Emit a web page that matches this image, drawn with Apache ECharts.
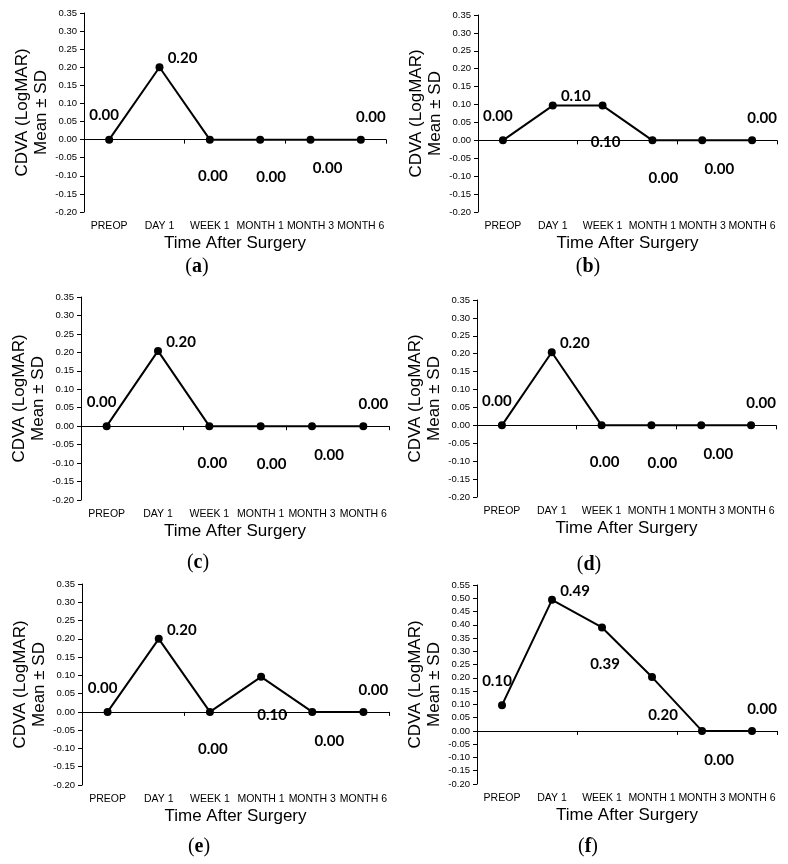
<!DOCTYPE html>
<html>
<head>
<meta charset="utf-8">
<script src="https://cdn.jsdelivr.net/npm/echarts@6/dist/echarts.min.js"></script>
<style>
  html, body { margin: 0; padding: 0; background: #fff; }
  #chart { width: 788px; height: 864px; }
</style>
</head>
<body>
<div id="chart"></div>
<script>
  // categories + values for the six panels (a)-(f)
  const CATEGORIES = ['PREOP', 'DAY 1', 'WEEK 1', 'MONTH 1', 'MONTH 3', 'MONTH 6'];
  const PANEL_A = [0, 0.2, 0, 0, 0, 0];
  const PANEL_B = [0, 0.097, 0.097, 0, 0, 0];
  const PANEL_C = [0, 0.204, 0, 0, 0, 0];
  const PANEL_D = [0, 0.204, 0, 0, 0, 0];
  const PANEL_E = [0, 0.2, 0, 0.096, 0, 0];
  const PANEL_F = [0.097, 0.494, 0.39, 0.203, 0, 0];
  const PANEL_LETTERS = ['a', 'b', 'c', 'd', 'e', 'f'];
  const Y_MAX = [0.35, 0.35, 0.35, 0.35, 0.35, 0.55];

  /* ---------- layout (px) ---------- */
  const GRIDS = [
    { left: 84, top: 13, width: 302, height: 199 },
    { left: 478, top: 15, width: 299, height: 197 },
    { left: 81, top: 297, width: 308, height: 203 },
    { left: 477, top: 300, width: 299, height: 197 },
    { left: 82, top: 584, width: 307, height: 201 },
    { left: 477, top: 585, width: 300, height: 199 }
  ];
  const LETTER_POS = [[197, 267], [588, 267], [198, 563], [589, 565], [199, 847], [588, 847]];
  // data label offsets relative to each point (same in every panel)
  const LABEL_OFFSETS = [[-5, -24], [23, -9], [3, 37], [11, 38], [17, 29], [10, -22]];

  const panels = [PANEL_A, PANEL_B, PANEL_C, PANEL_D, PANEL_E, PANEL_F];
  const SANS = '"Liberation Sans", Arial, sans-serif';

  const grid = [], xAxis = [], yAxis = [], series = [], graphic = [];

  panels.forEach(function (values, i) {
    grid.push(Object.assign({ containLabel: false }, GRIDS[i]));

    // axis line sitting on zero, with the category ticks
    xAxis.push({
      type: 'category', gridIndex: i, data: CATEGORIES, position: 'top',
      axisLine: { onZero: true, lineStyle: { color: '#000', width: 1 } },
      axisTick: { show: true, inside: true, length: 4, lineStyle: { color: '#000' } },
      axisLabel: { show: false },
      splitLine: { show: false }
    });
    // labels + title along the bottom
    xAxis.push({
      type: 'category', gridIndex: i, data: CATEGORIES, position: 'bottom',
      axisLine: { show: false, onZero: false },
      axisTick: { show: false },
      axisLabel: { color: '#000', fontSize: 10.5, fontFamily: SANS, margin: 9, interval: 0 },
      name: 'Time After Surgery', nameLocation: 'middle', nameGap: 23,
      nameTextStyle: { color: '#000', fontSize: 17, fontFamily: SANS }
    });

    yAxis.push({
      type: 'value', gridIndex: i, min: -0.2, max: Y_MAX[i], interval: 0.05,
      axisLine: { show: true, lineStyle: { color: '#000', width: 1 } },
      axisTick: { show: true, length: 4, lineStyle: { color: '#000' } },
      axisLabel: {
        color: '#000', fontSize: 9.5, fontFamily: SANS, margin: 7,
        formatter: function (v) { return v.toFixed(2); }
      },
      splitLine: { show: false },
      name: 'CDVA (LogMAR)\nMean ± SD', nameLocation: 'middle', nameGap: 33, nameRotate: 90,
      nameTextStyle: { color: '#000', fontSize: 17, fontFamily: SANS, lineHeight: 19 }
    });

    series.push({
      type: 'line', xAxisIndex: i * 2, yAxisIndex: i,
      symbol: 'circle', symbolSize: 8,
      lineStyle: { color: '#000', width: 2 },
      itemStyle: { color: '#000' },
      label: {
        show: true, position: 'inside', color: '#000',
        fontFamily: 'Lato, "Open Sans", sans-serif', fontWeight: 'bold', fontSize: 15,
        formatter: function (p) { return p.value.toFixed(2); }
      },
      emphasis: { disabled: true },
      animation: false,
      data: values.map(function (v, k) {
        return { value: v, label: { offset: LABEL_OFFSETS[k] } };
      })
    });

    graphic.push({
      type: 'text', x: LETTER_POS[i][0], y: LETTER_POS[i][1],
      style: {
        text: '{p|(}{b|' + PANEL_LETTERS[i] + '}{p|)}',
        align: 'center', verticalAlign: 'middle',
        rich: {
          p: { fontFamily: '"Liberation Serif", serif', fontSize: 20, fill: '#000' },
          b: { fontFamily: '"Liberation Serif", serif', fontSize: 20, fontWeight: 'bold', fill: '#000' }
        }
      }
    });
  });

  const chart = echarts.init(document.getElementById('chart'));
  chart.setOption({
    backgroundColor: '#fff',
    animation: false,
    grid: grid,
    xAxis: xAxis,
    yAxis: yAxis,
    series: series,
    graphic: graphic
  });
</script>
</body>
</html>
